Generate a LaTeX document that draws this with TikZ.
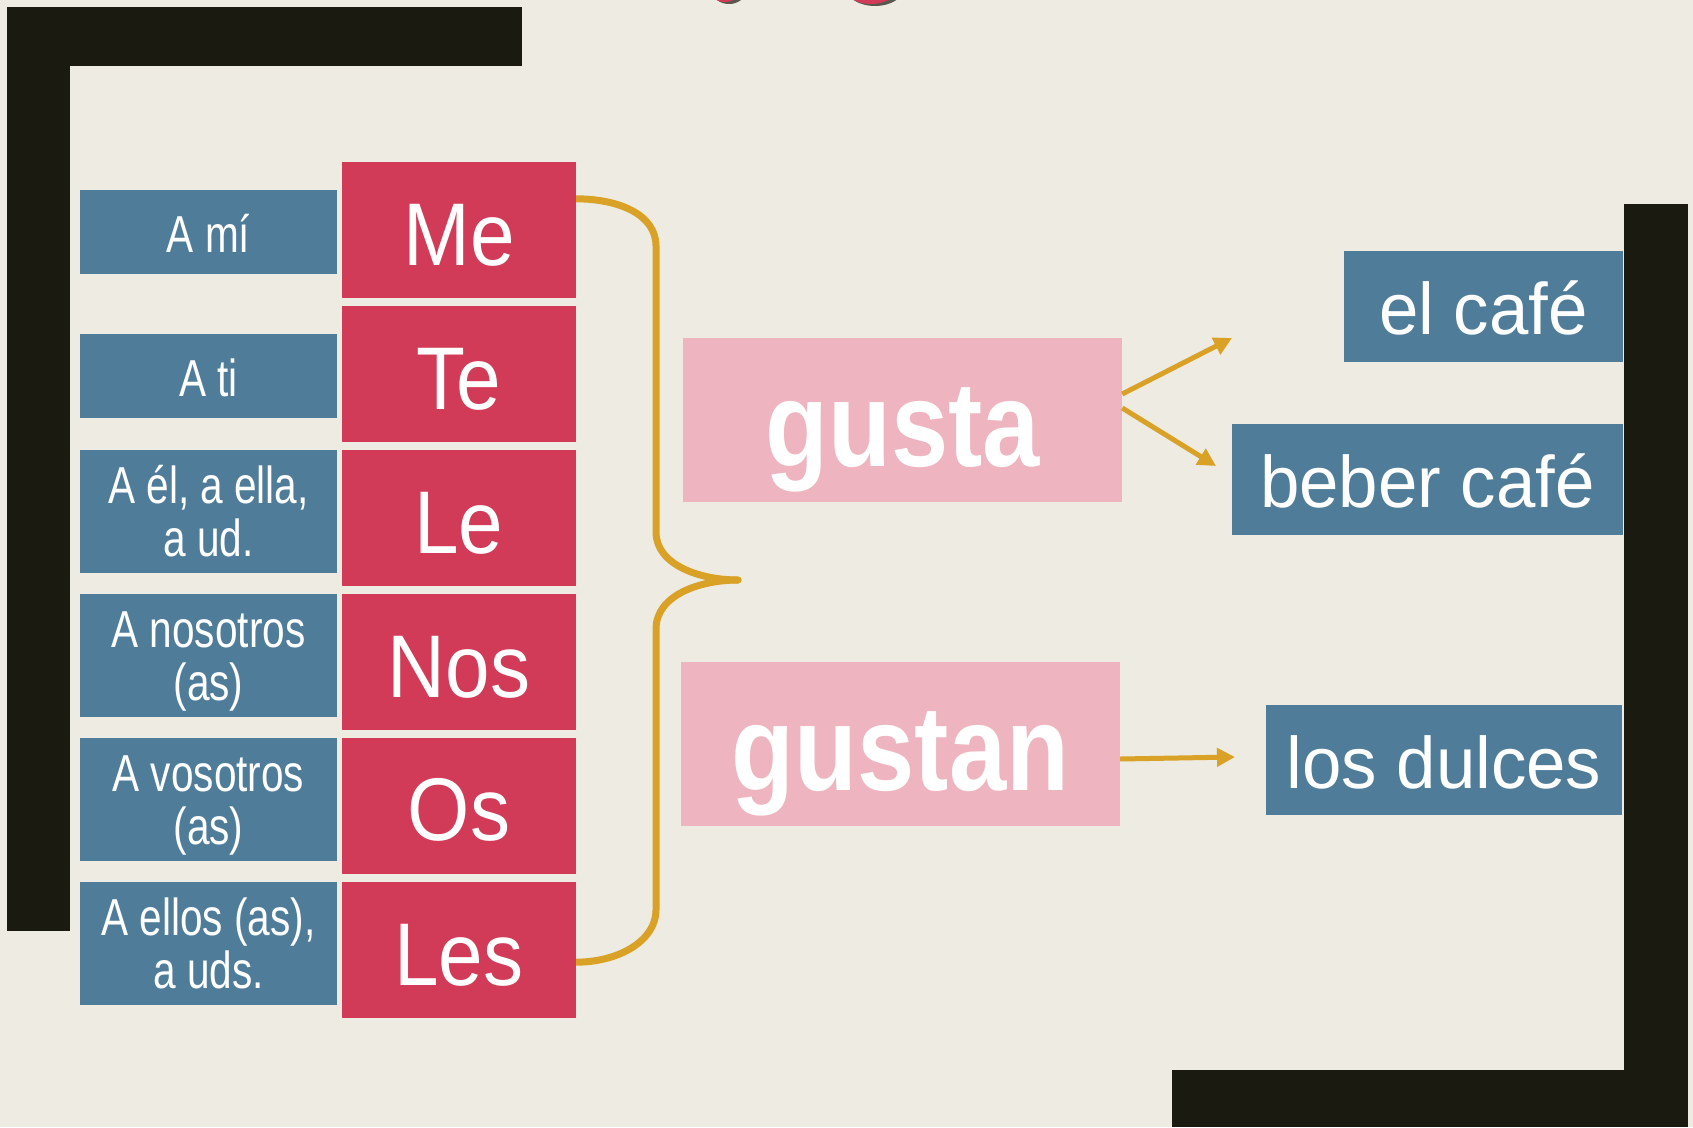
\documentclass[tikz,border=0pt]{standalone}
\usepackage{fontspec}
\setmainfont{Liberation Sans}
\newfontfamily\labfont[FakeStretch=0.78]{Liberation Sans}
\newfontfamily\pronfont[FakeStretch=0.9]{Liberation Sans}
\newfontfamily\verbfont[FakeStretch=0.85]{Liberation Sans}
\newfontfamily\objfont[FakeStretch=0.97]{Liberation Sans}
\usetikzlibrary{arrows.meta,calc,backgrounds}
\definecolor{bgc}{HTML}{EEEBE3}
\definecolor{framec}{HTML}{1A1A10}
\definecolor{bluec}{HTML}{4F7C99}
\definecolor{redc}{HTML}{D13B57}
\definecolor{pinkc}{HTML}{EEB4BF}
\definecolor{goldc}{HTML}{D9A226}
\tikzset{
  pron/.style={fill=redc, text=white, minimum width=234, minimum height=136, inner sep=0pt,
    font=\pronfont\fontsize{89}{89}\selectfont, text height=70pt, text depth=0pt},
  lab/.style={fill=bluec, text=white, minimum width=257, minimum height=84, inner sep=0pt,
    font=\labfont\fontsize{52}{53}\selectfont, text height=41pt, text depth=0pt},
  labtwo/.style={fill=bluec, text=white, minimum width=257, minimum height=123, inner sep=0pt,
    align=center, font=\labfont\fontsize{52}{53}\selectfont, text height=90pt, text depth=0pt},
  verbbox/.style={fill=pinkc, text=white, minimum width=439, minimum height=164, inner sep=0pt,
    font=\verbfont\bfseries\fontsize{121}{121}\selectfont, text height=92pt, text depth=0pt},
  objbox/.style={fill=bluec, text=white, minimum height=111, inner sep=0pt,
    font=\objfont\fontsize{73}{73}\selectfont, text height=56pt, text depth=0pt},
  goldarrow/.style={draw=goldc, line width=5pt, -{Triangle[length=18pt,width=18pt]}},
  bracestyle/.style={draw=goldc, line width=7pt, line cap=round}
}
\begin{document}
\begin{tikzpicture}[x=1pt,y=-1pt]
\useasboundingbox (0,0) rectangle (1693,1127);
% pronoun boxes
\node[pron] (me)  at (459,230)   {Me};
\node[pron] (te)  at (459,374)   {Te};
\node[pron] (le)  at (459,518)   {Le};
\node[pron] (nos) at (459,662)   {Nos};
\node[pron] (os)  at (459,805.5) {Os};
\node[pron] (les) at (459,950)   {Les};
% labels
\node[lab] (ami) at (208.5,232) {A mí};
\node[lab] (ati) at (208.5,376) {A ti};
\node[labtwo] (ael) at (208.5,511.5) {A él, a ella,\\a ud.};
\node[labtwo] (anos) at (208.5,655.5) {A nosotros\\(as)};
\node[labtwo] (avos) at (208.5,799) {A vosotros\\(as)};
\node[labtwo] (aellos) at (208.5,943.5) {A ellos (as),\\a uds.};
% verbs
\node[verbbox] (gusta) at (902.5,420) {gusta};
\node[verbbox] (gustan) at (900.5,744) {gustan};
% objects
\node[objbox, minimum width=279] (elcafe) at (1483.5,306.5) {el café};
\node[objbox, minimum width=391] (beber) at (1427.5,479.5) {beber café};
\node[objbox, minimum width=356, minimum height=110] (dulces) at (1444,760) {los dulces};
% arrow ends
\coordinate (t1) at (1232,338);
\coordinate (t2) at (1216,466);
\coordinate (t3) at (1235,757);
\draw[goldarrow] ($(gusta.east)+(0,-26)$) -- (t1);
\draw[goldarrow] ($(gusta.east)+(0,-12)$) -- (t2);
\draw[goldarrow] ($(gustan.east)+(0,15)$) -- (t3);
\begin{scope}[on background layer]
  \fill[bgc] (0,0) rectangle (1693,1127);
  % cut-off title pieces
  \begin{scope}
    \clip (0,0) rectangle (1693,1127);
    \fill[framec, opacity=0.7] (729,-8) ellipse [x radius=16, y radius=12];
    \fill[redc] (725,-10) ellipse [x radius=15, y radius=12];
    \fill[framec, opacity=0.7] (875,-17) ellipse [x radius=32, y radius=23];
    \fill[redc] (871,-20) ellipse [x radius=31, y radius=24];
  \end{scope}
  % frame
  \fill[framec] (7,7) rectangle (70,931);
  \fill[framec] (7,7) rectangle (522,66);
  \fill[framec] (1624,204) rectangle (1688,1127);
  \fill[framec] (1172,1070) rectangle (1688,1127);
  % brace
  \coordinate (b1) at ($(me.north east)+(0,37)$);
  \coordinate (b2) at ($(les.south east)+(0,-56)$);
  \coordinate (tip) at (738,580);
  \draw[bracestyle] (b1) .. controls (620,199) and (656,215) .. (656,246) -- (656,532)
     .. controls (656,565) and (700,580) .. (tip);
  \draw[bracestyle] (tip) .. controls (700,580) and (656,595) .. (656,629) -- (656,910)
     .. controls (656,940) and (620,962) .. (b2);
\end{scope}
\end{tikzpicture}
\end{document}
